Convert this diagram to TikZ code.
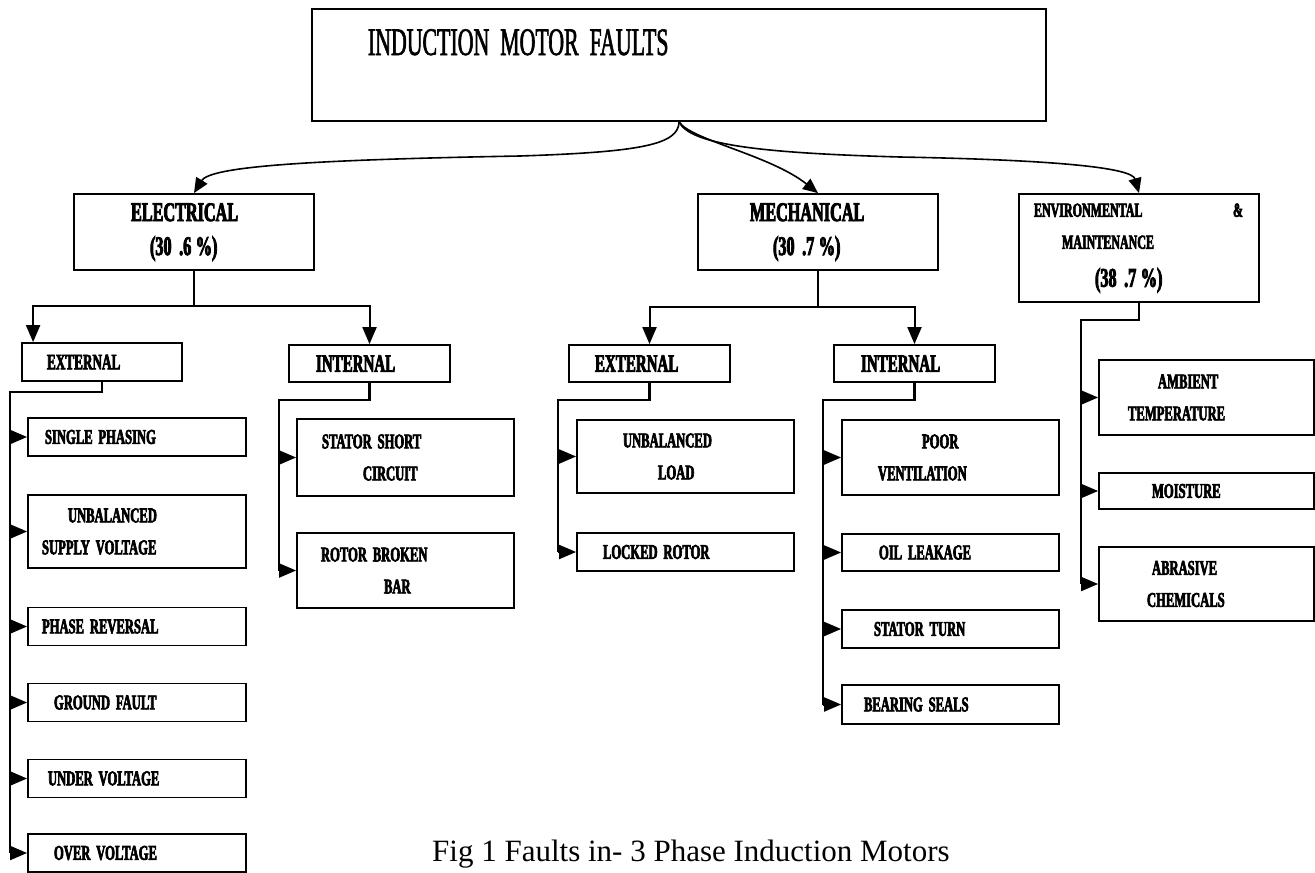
\documentclass[tikz,border=0pt]{standalone}
\usepackage{fontspec}
\setmainfont{Liberation Serif}
\newfontfamily\cond[FakeStretch=0.6,FakeBold=3]{Liberation Serif Bold}
\newfontfamily\ttlfont[FakeStretch=0.56,FakeBold=1.5]{Liberation Serif}
\protected\def\tsp{\spaceskip=.28em\relax}
\usetikzlibrary{arrows.meta,calc}

\begin{document}
\begin{tikzpicture}[x=1pt,y=-1pt,
  box/.style={draw,line width=1.8pt,inner xsep=0pt,align=left,execute at begin node=\tsp},
  cat/.style={box,text width=240pt,minimum height=76pt,font=\fontsize{27}{34}\selectfont\cond},
  sub/.style={box,text width=161pt,minimum height=37pt,font=\fontsize{25}{30}\selectfont\cond},
  leaf/.style={box,text width=217pt,minimum height=38pt,font=\fontsize{21}{32}\selectfont\cond},
  arr/.style={-{Triangle[length=17pt,width=14pt]},line width=2pt},
  carr/.style={-{Triangle[length=15pt,width=13pt]},line width=1.6pt},
  bus/.style={line width=2.2pt}]
\useasboundingbox (0,0) rectangle (1315,873);
\node[box,line width=1.5pt,text width=734pt,inner ysep=0pt,text height=46pt,text depth=66pt,font=\fontsize{39}{44}\selectfont\ttlfont] (top) at (679,65) {\hspace*{56pt}INDUCTION MOTOR FAULTS};
\node[cat] (ele) at (194,232) {\hspace*{57pt}ELECTRICAL\\\hspace*{76pt}(30 .6\,\%)};
\node[cat] (mec) at (818,232) {\hspace*{52pt}MECHANICAL\\\hspace*{75pt}(30 .7\,\%)};
\node[cat,minimum height=108pt] (env) at (1139,248) {\fontsize{20}{32}\selectfont\tsp\hspace*{15pt}ENVIRONMENTAL\hfill\&\hspace*{16pt}\mbox{}\\\hspace*{43pt}MAINTENANCE\\[4pt]\fontsize{27}{34}\selectfont\tsp\hspace*{76pt}(38 .7\,\%)};
\node[sub,text width=160pt,minimum height=38pt,font=\fontsize{22}{30}\selectfont\cond] (eex) at (102,362) {\hspace*{25pt}EXTERNAL};
\node[sub] (ein) at (369.5,363.5) {\hspace*{27pt}INTERNAL};
\node[sub] (mex) at (649.5,363.5) {\hspace*{26pt}EXTERNAL};
\node[sub] (min) at (914.5,363.5) {\hspace*{27pt}INTERNAL};
\node[leaf,text width=218pt] (sph) at (137,437) {\hspace*{17pt}SINGLE PHASING};
\node[leaf,text width=218pt,minimum height=73pt] (usv) at (137,531.5) {\hspace*{40pt}UNBALANCED\\\hspace*{14pt}SUPPLY VOLTAGE};
\node[leaf,text width=218pt] (prv) at (137,626.5) {\hspace*{14pt}PHASE REVERSAL};
\node[leaf,text width=218pt] (gfl) at (137,702.5) {\hspace*{26pt}GROUND FAULT};
\node[leaf,text width=218pt] (uvo) at (137,778.5) {\hspace*{20pt}UNDER VOLTAGE};
\node[leaf,text width=218pt] (ovo) at (137,853) {\hspace*{26pt}OVER VOLTAGE};
\node[leaf,minimum height=77pt] (ssc) at (405.5,457.5) {\hspace*{25pt}STATOR SHORT\\\hspace*{66pt}CIRCUIT};
\node[leaf,minimum height=75pt] (rbb) at (405.5,570.5) {\hspace*{24pt}ROTOR BROKEN\\\hspace*{87pt}BAR};
\node[leaf,minimum height=73pt] (ulo) at (685.5,456.5) {\hspace*{46pt}UNBALANCED\\\hspace*{81pt}LOAD};
\node[leaf] (lro) at (685.5,552) {\hspace*{26pt}LOCKED ROTOR};
\node[leaf,minimum height=75pt] (pvn) at (950.5,457.5) {\hspace*{80pt}POOR\\\hspace*{36pt}VENTILATION};
\node[leaf,minimum height=37pt] (oil) at (950.5,552.5) {\hspace*{37pt}OIL LEAKAGE};
\node[leaf] (stt) at (950.5,629) {\hspace*{32pt}STATOR TURN};
\node[leaf,minimum height=39pt] (bsl) at (950.5,704.5) {\hspace*{22pt}BEARING SEALS};
\node[leaf,text width=215pt,minimum height=75pt] (amb) at (1206.5,397.5) {\hspace*{59pt}AMBIENT\\\hspace*{29pt}TEMPERATURE};
\node[leaf,text width=215pt,minimum height=36pt] (moi) at (1206.5,491) {\hspace*{53pt}MOISTURE};
\node[leaf,text width=215pt,minimum height=74pt] (abr) at (1206.5,584) {\hspace*{53pt}ABRASIVE\\\hspace*{48pt}CHEMICALS};
\node[anchor=base west,inner sep=0pt,font=\fontsize{31}{36}\selectfont] (cap) at (432,861) {Fig 1 Faults in- 3 Phase Induction Motors};
\draw[carr] (top.south) .. controls +(0,23) and (640,152) .. (520,156) .. controls (300,160) and (210,167) .. (ele.north);
\draw[carr] (top.south) .. controls +(11,18) and (770,155) .. (mec.north);
\draw[carr] (top.south) .. controls +(11,23) and (760,153) .. (900,157) .. controls (1060,160) and (1132,168) .. (env.north);
\draw[arr] (ele.south) -- ++(0,35) -| ($(eex.north west)+(12,0)$);
\draw[arr] (ele.south) -- ++(0,35) -| (ein.north);
\draw[arr] (mec.south) -- ++(0,36) -| (mex.north);
\draw[arr] (mec.south) -- ++(0,36) -| (min.north);
\coordinate (eb) at (10,392);
\coordinate (ib) at (279,400);
\coordinate (xb) at (558,400);
\coordinate (nb) at (823,400);
\coordinate (vb) at (1081,320);
\draw[bus] (eex.south) |- (eb) -- (eb |- ovo.west);
\draw[bus] (ein.south) |- (ib) -- (ib |- rbb.west);
\draw[bus] (mex.south) |- (xb) -- (xb |- lro.west);
\draw[bus] (min.south) |- (nb) -- (nb |- bsl.west);
\draw[bus] (env.south) |- (vb) -- (vb |- abr.west);
\foreach \n in {sph,usv,prv,gfl,uvo,ovo} \draw[arr] (eb |- \n.west) -- (\n.west);
\foreach \n in {ssc,rbb} \draw[arr] (ib |- \n.west) -- (\n.west);
\foreach \n in {ulo,lro} \draw[arr] (xb |- \n.west) -- (\n.west);
\foreach \n in {pvn,oil,stt,bsl} \draw[arr] (nb |- \n.west) -- (\n.west);
\foreach \n in {amb,moi,abr} \draw[arr] (vb |- \n.west) -- (\n.west);
\end{tikzpicture}
\end{document}
